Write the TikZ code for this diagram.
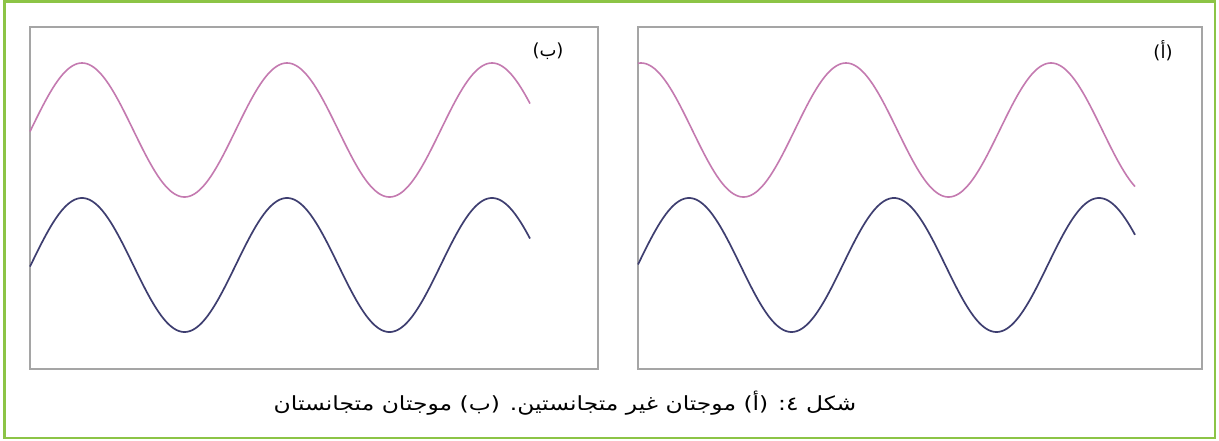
\documentclass[tikz,border=0pt]{standalone}
\usepackage{fontspec}
\newfontfamily\arabicfont[Script=Arabic]{DejaVu Sans}
\newfontfamily\capfont[Script=Arabic, FakeStretch=1.2]{DejaVu Sans}
\TeXXeTstate=1
\definecolor{framegreen}{RGB}{140,196,70}
\definecolor{boxgray}{RGB}{165,165,165}
\definecolor{wavepink}{RGB}{196,122,176}
\definecolor{wavenavy}{RGB}{62,62,112}
\tikzset{
  panel/.style={draw=boxgray, line width=2pt},
  pinkwave/.style={draw=wavepink, line width=1.6pt, samples=300},
  navywave/.style={draw=wavenavy, line width=1.7pt, samples=300},
  lbl/.style={inner sep=0pt, font=\arabicfont\fontsize{18}{20}\selectfont},
}
\begin{document}
\begin{tikzpicture}[x=1pt,y=-1pt]
\useasboundingbox[fill=white] (0,0) rectangle (1219,440);
\draw[framegreen, line width=2.6pt] (4.5,1.5) rectangle (1215,438);
% panels
\draw[panel] (30,27) rectangle (598,369);
\draw[panel] (638,27) rectangle (1202,369);
% left panel (b): in phase
\draw[pinkwave, domain=30:530] plot (\x, {130 - 67*cos(1.7561*(\x-82))});
\draw[navywave, domain=30:530] plot (\x, {265 - 67*cos(1.7561*(\x-82))});
% right panel (a): out of phase
\draw[pinkwave, domain=638:1135] plot (\x, {130 - 67*cos(1.7561*(\x-641))});
\draw[navywave, domain=638:1135] plot (\x, {265 - 67*cos(1.7561*(\x-689))});
% labels
\node[lbl] (lb) at (548,51) {\beginR(ب)\endR};
\node[lbl] (la) at (1163,51) {\beginR(أ)\endR};
\node[lbl, font=\capfont\fontsize{19.5}{22}\selectfont] (cap) at (565,403) {\beginR شكل ٤: (أ) موجتان غير متجانستين. (ب) موجتان متجانستان\endR};
\end{tikzpicture}
\end{document}
